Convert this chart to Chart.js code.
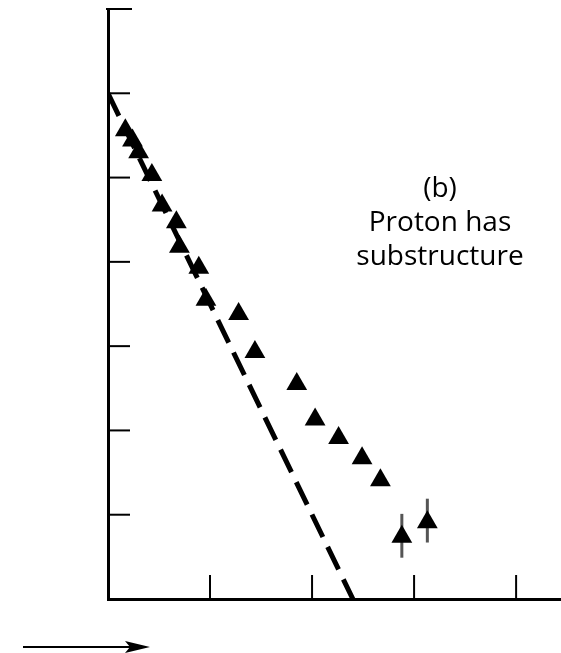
<!DOCTYPE html>
<html>
<head>
<meta charset="utf-8">
<script src="https://cdn.jsdelivr.net/npm/chart.js@4"></script>
<style>
  html, body { margin: 0; padding: 0; background: #fff; overflow: hidden; }
  canvas { display: block; }
</style>
</head>
<body>
<canvas id="chart" width="561" height="653"></canvas>
<script>
// measured points (triangles)
const xVals = [0.17, 0.24, 0.30, 0.43, 0.53, 0.67, 0.70, 0.89, 0.96, 1.28, 1.44, 1.85, 2.03, 2.26, 2.49, 2.67, 2.88, 3.13];
const yVals = [5.56, 5.44, 5.30, 5.03, 4.67, 4.47, 4.18, 3.93, 3.55, 3.38, 2.93, 2.55, 2.13, 1.91, 1.67, 1.41, 0.74, 0.91];
// error bars on the last two points
const errX = [2.88, 3.13];
const errLow = [0.49, 0.67];
const errHigh = [1.01, 1.19];
// dashed line (point-like proton)
const lineX = [0, 2.40];
const lineY = [6.0, 0];
const xTicks = [1, 2, 3, 4];
const yTicks = [1, 2, 3, 4, 5, 6, 7];
const labelLines = ['(b)', 'Proton has', 'substructure'];

const extras = {
    id: 'extras',
    beforeDatasetsDraw(chart) {
        const ctx = chart.ctx;
        const xs = chart.scales.x, ys = chart.scales.y;
        ctx.save();
        ctx.strokeStyle = '#000';
        ctx.lineWidth = 2;
        // inward ticks
        yTicks.forEach(v => {
            const py = ys.getPixelForValue(v);
            ctx.beginPath();
            ctx.moveTo(v === 7 ? xs.left - 2 : xs.left, py);
            ctx.lineTo(xs.left + (v === 7 ? 24 : 22), py);
            ctx.stroke();
        });
        xTicks.forEach(v => {
            const px = xs.getPixelForValue(v);
            ctx.beginPath();
            ctx.moveTo(px, ys.bottom);
            ctx.lineTo(px, ys.bottom - 24);
            ctx.stroke();
        });
        // error bars
        ctx.lineWidth = 3;
        ctx.strokeStyle = '#555';
        errX.forEach((v, i) => {
            const px = xs.getPixelForValue(v);
            ctx.beginPath();
            ctx.moveTo(px, ys.getPixelForValue(errLow[i]));
            ctx.lineTo(px, ys.getPixelForValue(errHigh[i]));
            ctx.stroke();
        });
        ctx.restore();
    },
    afterDraw(chart) {
        const ctx = chart.ctx;
        ctx.save();
        ctx.fillStyle = '#000';
        ctx.font = '28px "Open Sans"';
        ctx.textAlign = 'center';
        ctx.textBaseline = 'alphabetic';
        labelLines.forEach((t, i) => ctx.fillText(t, 440, 197 + i * 34));
        // arrow under the x axis
        ctx.strokeStyle = '#000';
        ctx.lineWidth = 2;
        ctx.beginPath();
        ctx.moveTo(23, 647);
        ctx.lineTo(130, 647);
        ctx.stroke();
        ctx.beginPath();
        ctx.moveTo(150, 647);
        ctx.lineTo(125, 641);
        ctx.lineTo(130, 647);
        ctx.lineTo(125, 653);
        ctx.closePath();
        ctx.fillStyle = '#000';
        ctx.fill();
        ctx.restore();
    }
};

const ctx = document.getElementById('chart').getContext('2d');
const chart = new Chart(ctx, {
    type: 'scatter',
    data: {
        datasets: [{
            data: xVals.map((x, i) => ({x: x, y: yVals[i]})),
            pointStyle: 'triangle',
            pointRadius: 12,
            backgroundColor: '#000',
            borderColor: '#000',
            borderWidth: 0
        }, {
            type: 'line',
            data: lineX.map((x, i) => ({x: x, y: lineY[i]})),
            borderColor: '#000',
            borderWidth: 5,
            borderDash: [25, 11],
            pointRadius: 0,
            fill: false
        }]
    },
    options: {
        responsive: false,
        animation: false,
        layout: { autoPadding: false, padding: { left: 108, top: 9, right: 0, bottom: 54 } },
        plugins: { legend: { display: false }, tooltip: { enabled: false } },
        scales: {
            x: {
                type: 'linear', min: 0, max: 4.44,
                ticks: { display: false },
                grid: { display: false, drawTicks: false },
                border: { display: true, color: '#000', width: 3 }
            },
            y: {
                type: 'linear', min: 0, max: 7,
                ticks: { display: false },
                grid: { display: false, drawTicks: false },
                border: { display: true, color: '#000', width: 3 }
            }
        }
    },
    plugins: [extras]
});
</script>
</body>
</html>
